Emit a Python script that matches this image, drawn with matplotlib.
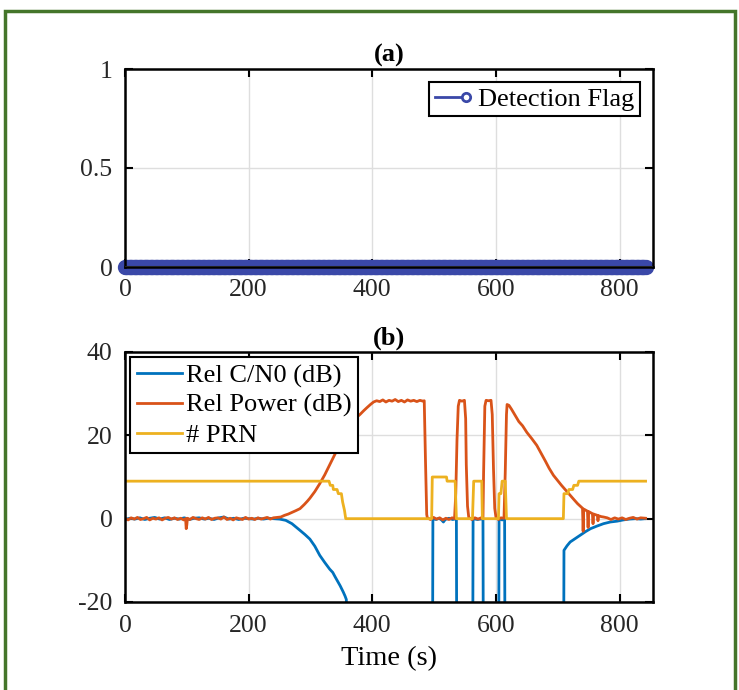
import matplotlib
matplotlib.use('Agg')
import matplotlib.pyplot as plt
import numpy as np
from matplotlib.lines import Line2D
from matplotlib.legend_handler import HandlerBase
from matplotlib.patches import Rectangle

# ---- data ----
flag_t = np.arange(0, 843, 2)          # detection flag sampled over the run
flag_v = np.zeros(len(flag_t))         # never raised

# Rel C/N0 (dB); -60 = dropped out (below the plot)
cn0 = [(0, -0.2), (8, 0.1), (16, -0.1), (24, 0.2), (32, -0.2), (40, 0.1), (48, 0.3),
       (56, -0.1), (64, 0.2), (72, -0.2), (80, 0.1), (88, -0.1), (96, 0.2), (104, -0.2),
       (112, 0.1), (120, 0.2), (128, -0.1), (136, 0.1), (144, -0.2), (152, 0.2), (160, 0.4),
       (168, -0.1), (176, 0.1), (184, -0.2), (192, 0.1), (200, 0.0), (208, -0.1), (216, 0.1),
       (224, -0.1), (232, 0.1), (240, 0.0), (250, -0.1), (260, -0.4), (270, -1.2),
       (283, -2.8), (291, -3.8), (299, -4.9), (307, -6.6), (315, -8.8), (323, -10.5),
       (331, -12.1), (336, -12.9), (340, -14.0), (348, -16.1), (353, -17.6), (356, -18.6),
       (358, -19.4), (359, -60), (497, -60), (498, 0.0), (503, -0.2), (508, 0.1),
       (512, -0.3), (515, -0.8), (518, -0.2), (524, 0.1), (530, -0.2), (536, 0.0),
       (537, -60), (562, -60), (563, 0.0), (570, -0.2), (579, 0.0), (580, -60),
       (604, -60), (605, 0.0), (610, -0.3), (614, 0.0), (615, -60), (709, -60),
       (710, -7.6), (715, -6.5), (720, -5.6), (728, -4.8), (736, -4.0), (745, -3.1),
       (753, -2.4), (763, -1.8), (774, -1.2), (785, -0.8), (796, -0.6), (806, -0.3),
       (816, -0.1), (826, 0.0), (834, -0.1), (842, 0.0)]

# Rel Power (dB)
power = [(0, 0.1), (5, -0.3), (10, 0.2), (15, -0.1), (20, 0.3), (25, -0.2), (30, 0.0),
         (35, 0.3), (40, -0.3), (45, 0.1), (50, -0.1), (55, 0.2), (60, -0.3), (65, 0.1),
         (70, 0.3), (75, -0.1), (80, 0.2), (85, -0.2), (90, 0.1), (95, -0.3), (98, 0.0),
         (99, -2.4), (100, -1.5), (101, 0.1), (105, -0.2), (110, 0.3), (115, 0.0),
         (120, -0.2), (125, 0.2), (130, -0.1), (135, 0.3), (140, -0.2), (145, 0.1),
         (150, 0.2), (155, -0.1), (160, 0.4), (165, -0.2), (170, 0.1), (175, -0.3),
         (180, 0.2), (185, 0.0), (190, -0.2), (195, 0.3), (200, -0.1), (205, 0.1),
         (210, -0.2), (215, 0.2), (220, -0.1), (225, 0.1), (230, 0.3), (235, -0.1),
         (240, 0.2), (246, 0.3), (252, 0.4), (258, 0.8), (264, 1.1), (270, 1.5),
         (276, 1.9), (283, 2.4), (290, 3.4), (295, 4.2), (299, 4.9), (307, 6.5),
         (315, 8.4), (323, 10.5), (331, 12.9), (340, 15.6), (348, 18.2), (356, 20.5),
         (364, 22.5), (372, 24.0), (380, 25.0), (386, 25.9), (391, 26.6), (397, 27.4),
         (402, 28.0), (407, 28.3), (412, 28.1), (417, 28.5), (422, 28.0), (427, 28.4),
         (432, 28.2), (437, 28.6), (442, 28.1), (447, 28.4), (452, 28.0), (457, 28.5),
         (462, 28.2), (467, 28.4), (472, 28.1), (477, 28.4), (482, 28.2), (484, 28.3),
         (486, 14.0), (488, 1.0), (489, 0.2), (494, -0.2), (499, 0.3), (504, -0.1),
         (509, 0.2), (514, -0.3), (519, 0.1), (524, -0.2), (529, 0.2), (533, 0.0),
         (535, 6.0), (537, 19.0), (539, 27.0), (541, 28.4), (545, 28.2), (549, 28.4),
         (551, 24.0), (552, 13.0), (554, 3.0), (556, 0.3), (561, -0.2), (566, 0.2),
         (571, -0.1), (576, 0.2), (579, 0.1), (580, 11.0), (582, 27.0), (584, 28.4),
         (588, 28.3), (592, 28.4), (594, 25.0), (596, 12.0), (598, 2.5), (600, 0.3),
         (604, -0.2), (608, 0.2), (613, 0.1), (615, 11.0), (617, 25.0), (618, 27.4),
         (621, 27.2), (625, 26.3), (631, 24.8), (637, 23.3), (643, 22.3), (650, 20.7),
         (658, 19.2), (666, 17.6), (673, 15.7), (680, 13.8), (686, 12.1), (693, 10.4),
         (700, 9.1), (706, 8.0), (713, 6.8), (720, 5.6), (726, 4.6), (732, 3.6),
         (737, 2.9), (740, 2.5), (741, -3.0), (742, 2.3), (748, 1.8), (749, -2.1),
         (750, 1.7), (756, 1.2), (757, -1.2), (758, 1.1), (764, 0.8), (765, -0.5),
         (766, 0.7), (770, 0.5), (774, 0.4), (780, 0.2), (786, -0.2), (792, 0.2),
         (798, -0.1), (804, 0.2), (810, -0.2), (816, 0.1), (822, 0.3), (828, -0.1),
         (834, 0.2), (842, 0.1)]

# number of PRNs tracked
prn = [(0, 9), (330, 9), (332, 8), (336, 8), (337, 7), (343, 7), (345, 6), (350, 6),
       (352, 4), (355, 2), (357, 0), (496, 0), (497, 10), (520, 10), (521, 9), (534, 9),
       (536, 0), (562, 0), (564, 9), (577, 9), (578, 0), (604, 0), (605, 6), (608, 6),
       (610, 9), (615, 9), (617, 0), (709, 0), (710, 6), (716, 6), (718, 7), (724, 7),
       (726, 8), (732, 8), (734, 9), (842, 9)]

labels_b = ['Rel C/N0 (dB)', 'Rel Power (dB)', '# PRN']
colors_b = ['#0072BD', '#D95319', '#EDB120']
flag_color = '#3a48a8'

cn0_t, cn0_v = zip(*cn0)
pow_t, pow_v = zip(*power)
prn_t, prn_v = zip(*prn)

plt.rcParams['font.family'] = ['Liberation Serif', 'DejaVu Serif']
plt.rcParams['axes.linewidth'] = 1.8
plt.rcParams['axes.unicode_minus'] = False


class StemHandler(HandlerBase):
    # line with the marker at its right end, like a stem legend
    def create_artists(self, legend, orig, xd, yd, w, h, fs, trans):
        y = (h - yd) / 2
        ln = Line2D([-xd, -xd + w], [y, y], color=flag_color, lw=2, transform=trans)
        mk = Line2D([-xd + w], [y], marker='o', ms=6, mfc='white', mec=flag_color,
                    mew=2, ls='none', transform=trans)
        return [ln, mk]


def style_axes(ax):
    ax.set_xlim(0, 854)
    ax.set_xticks([0, 200, 400, 600, 800])
    ax.tick_params(direction='in', top=True, right=True, length=6, width=1.5,
                   labelsize=18.5, pad=9, colors='k', labelcolor='#262626')
    ax.grid(True, color='#dedede', lw=1)
    ax.set_axisbelow(True)
    for s in ax.spines.values():
        s.set_zorder(5)


fig = plt.figure(figsize=(7.39, 6.9), dpi=100)

ax1 = fig.add_axes([125 / 739, 1 - 267 / 690, 528 / 739, 198 / 690])
style_axes(ax1)
ax1.plot(flag_t, flag_v, ls='none', marker='o', ms=9, mfc='none', mec=flag_color,
         mew=2, clip_on=False, zorder=4)
ax1.axhline(0, color='#222222', lw=1.5, zorder=6)
ax1.set_ylim(0, 1)
ax1.set_yticks([0, 0.5, 1])
ax1.set_yticklabels(['0', '0.5', '1'])
ax1.set_title('(a)', fontsize=19, fontweight='bold', pad=5)
leg1 = ax1.legend([Line2D([], [])], ['Detection Flag'], handler_map={Line2D: StemHandler()},
                  loc='upper right', fontsize=19, handlelength=1.2, handletextpad=0.45,
                  borderpad=0.2, borderaxespad=0.5, fancybox=False, framealpha=1,
                  edgecolor='k')
leg1.get_frame().set_linewidth(1.5)

ax2 = fig.add_axes([125 / 739, 1 - 602 / 690, 528 / 739, 250 / 690])
style_axes(ax2)
ax2.plot(cn0_t, cn0_v, color=colors_b[0], lw=2, label=labels_b[0])
ax2.plot(pow_t, pow_v, color=colors_b[1], lw=2, label=labels_b[1])
ax2.plot(prn_t, prn_v, color=colors_b[2], lw=2, label=labels_b[2])
ax2.set_ylim(-20, 40)
ax2.set_yticks([-20, 0, 20, 40])
ax2.set_title('(b)', fontsize=19, fontweight='bold', pad=5)
ax2.set_xlabel('Time (s)', fontsize=20.5, labelpad=7)
leg2 = ax2.legend(loc='upper left', fontsize=19, handlelength=1.7, handletextpad=0.15,
                  labelspacing=0.22, borderpad=0.25, borderaxespad=0.2, fancybox=False,
                  framealpha=1, edgecolor='k')
leg2.get_frame().set_linewidth(1.5)

# green frame round the panel
fig.patches.append(Rectangle((5 / 739, -0.05), 730 / 739, 1.05 - 11 / 690,
                             transform=fig.transFigure, fill=False,
                             edgecolor='#44752a', lw=2.5))

fig.savefig('out.png', dpi=100)
